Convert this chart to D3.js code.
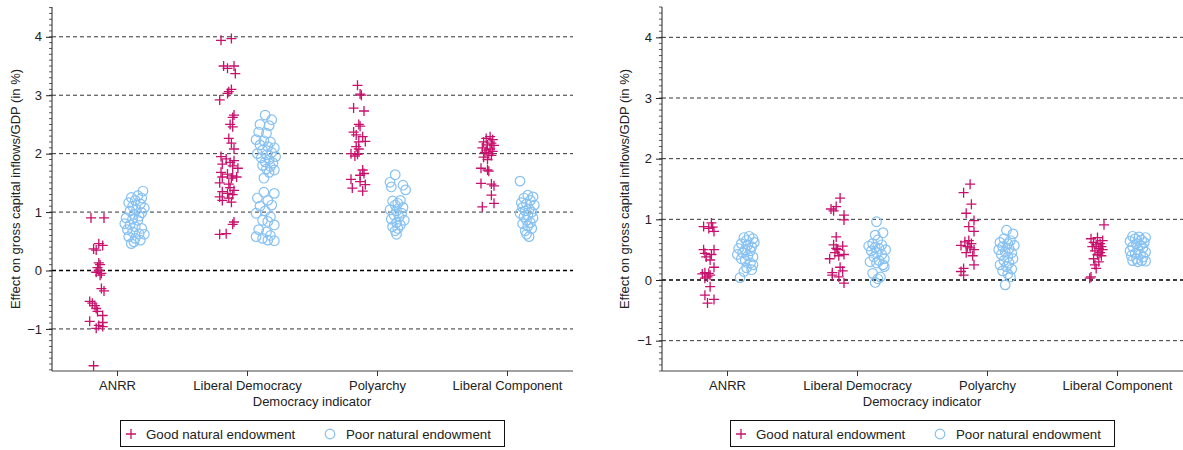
<!DOCTYPE html>
<html>
<head>
<meta charset="utf-8">
<script src="https://cdn.jsdelivr.net/npm/d3@7"></script>
<style>
  html, body { margin: 0; padding: 0; background: #fff; }
  svg { display: block; font-family: "Liberation Sans", Arial, Helvetica, sans-serif; }
</style>
</head>
<body>
<svg id="chart" width="1183" height="450"></svg>
<script>
// Democracy indicators on the x axis
const categories = ["ANRR", "Liberal Democracy", "Polyarchy", "Liberal Component"];
const yTicks = [-1, 0, 1, 2, 3, 4];
const legendLabels = ["Good natural endowment", "Poor natural endowment"];
const xTitle = "Democracy indicator";
const yTitle = "Effect on gross capital inflows/GDP (in %)";

// Each estimate: [jitter within category, effect in %]
// Panel A — good natural endowment
const goodA_ANRR = [[-0.20,0.90],[-0.10,0.90],[-0.14,0.46],[-0.11,0.43],[-0.18,0.37],[-0.16,0.35],[-0.14,0.13],[-0.13,0.10],[-0.15,0.05],[-0.14,0.00],[-0.16,-0.03],[-0.12,-0.05],[-0.13,-0.08],[-0.12,-0.31],[-0.10,-0.35],[-0.21,-0.53],[-0.19,-0.56],[-0.17,-0.60],[-0.16,-0.65],[-0.15,-0.70],[-0.11,-0.77],[-0.21,-0.87],[-0.11,-0.89],[-0.14,-0.94],[-0.11,-0.96],[-0.16,-0.99],[-0.18,-1.63]];
const goodA_LD = [[-0.20,3.94],[-0.12,3.97],[-0.18,3.50],[-0.10,3.50],[-0.15,3.46],[-0.09,3.37],[-0.12,3.10],[-0.14,3.06],[-0.15,3.03],[-0.21,2.92],[-0.10,2.66],[-0.11,2.62],[-0.13,2.50],[-0.11,2.46],[-0.14,2.26],[-0.12,2.18],[-0.10,2.08],[-0.20,1.95],[-0.16,1.91],[-0.10,1.88],[-0.13,1.85],[-0.19,1.82],[-0.11,1.79],[-0.07,1.75],[-0.20,1.68],[-0.15,1.65],[-0.11,1.62],[-0.19,1.60],[-0.12,1.58],[-0.08,1.60],[-0.21,1.50],[-0.14,1.48],[-0.13,1.42],[-0.10,1.37],[-0.19,1.35],[-0.15,1.32],[-0.11,1.30],[-0.21,1.26],[-0.14,1.24],[-0.19,1.20],[-0.12,1.17],[-0.10,0.83],[-0.11,0.79],[-0.21,0.62],[-0.16,0.63]];
const goodA_Poly = [[-0.15,3.17],[-0.12,3.00],[-0.13,3.02],[-0.18,2.78],[-0.10,2.73],[-0.14,2.50],[-0.13,2.47],[-0.18,2.37],[-0.11,2.29],[-0.16,2.32],[-0.14,2.20],[-0.09,2.21],[-0.16,2.12],[-0.14,2.08],[-0.20,2.00],[-0.15,1.99],[-0.17,1.96],[-0.11,1.72],[-0.10,1.66],[-0.13,1.63],[-0.20,1.56],[-0.13,1.52],[-0.09,1.47],[-0.19,1.41],[-0.11,1.36]];
const goodA_LC = [[-0.13,2.29],[-0.16,2.26],[-0.11,2.24],[-0.18,2.20],[-0.12,2.18],[-0.15,2.15],[-0.10,2.14],[-0.19,2.10],[-0.13,2.08],[-0.16,2.06],[-0.11,2.04],[-0.17,2.02],[-0.14,2.00],[-0.12,1.97],[-0.18,1.94],[-0.15,1.90],[-0.20,1.75],[-0.15,1.72],[-0.14,1.70],[-0.20,1.49],[-0.12,1.48],[-0.10,1.45],[-0.12,1.29],[-0.10,1.15],[-0.19,1.09]];
// Panel A — poor natural endowment
const poorA_ANRR = [[0.20,1.36],[0.16,1.28],[0.11,1.25],[0.19,1.24],[0.14,1.20],[0.09,1.16],[0.18,1.14],[0.12,1.10],[0.21,1.07],[0.15,1.04],[0.10,1.02],[0.19,0.99],[0.13,0.96],[0.17,0.93],[0.07,0.90],[0.12,0.88],[0.16,0.86],[0.06,0.80],[0.10,0.78],[0.14,0.75],[0.19,0.72],[0.08,0.70],[0.12,0.66],[0.17,0.63],[0.21,0.62],[0.09,0.58],[0.14,0.55],[0.18,0.52],[0.13,0.49],[0.11,0.46]];
const poorA_LD = [[0.14,2.66],[0.19,2.58],[0.10,2.50],[0.17,2.48],[0.09,2.37],[0.15,2.35],[0.07,2.24],[0.13,2.22],[0.18,2.20],[0.10,2.15],[0.16,2.12],[0.21,2.10],[0.12,2.06],[0.19,2.02],[0.08,2.00],[0.15,1.98],[0.22,1.95],[0.11,1.93],[0.17,1.90],[0.14,1.86],[0.20,1.84],[0.12,1.80],[0.18,1.78],[0.15,1.74],[0.21,1.72],[0.17,1.68],[0.13,1.58],[0.21,1.32],[0.13,1.34],[0.08,1.24],[0.16,1.20],[0.19,1.12],[0.10,1.10],[0.14,1.02],[0.07,0.98],[0.18,0.92],[0.12,0.86],[0.16,0.84],[0.21,0.78],[0.09,0.70],[0.15,0.66],[0.07,0.58],[0.18,0.60],[0.12,0.55],[0.16,0.52],[0.21,0.51]];
const poorA_Poly = [[0.14,1.64],[0.10,1.51],[0.20,1.46],[0.11,1.43],[0.22,1.38],[0.12,1.19],[0.18,1.20],[0.16,1.15],[0.14,1.12],[0.20,1.08],[0.10,1.04],[0.15,1.02],[0.19,0.98],[0.13,0.95],[0.17,0.92],[0.11,0.88],[0.21,0.86],[0.15,0.82],[0.18,0.78],[0.12,0.75],[0.16,0.72],[0.14,0.68],[0.15,0.62]];
const poorA_LC = [[0.10,1.53],[0.16,1.29],[0.20,1.26],[0.13,1.24],[0.18,1.20],[0.11,1.16],[0.15,1.14],[0.21,1.12],[0.12,1.08],[0.17,1.05],[0.14,1.02],[0.19,1.00],[0.10,0.98],[0.16,0.95],[0.13,0.92],[0.20,0.90],[0.15,0.86],[0.18,0.82],[0.12,0.80],[0.16,0.76],[0.19,0.72],[0.14,0.68],[0.15,0.62],[0.17,0.58]];
// Panel B — good natural endowment
const goodB_ANRR = [[-0.18,0.88],[-0.12,0.94],[-0.10,0.80],[-0.14,0.85],[-0.11,0.87],[-0.18,0.50],[-0.10,0.50],[-0.17,0.44],[-0.13,0.33],[-0.16,0.38],[-0.12,0.42],[-0.10,0.21],[-0.17,0.12],[-0.19,0.10],[-0.13,0.08],[-0.15,0.05],[-0.17,0.03],[-0.14,0.11],[-0.13,-0.11],[-0.17,-0.25],[-0.10,-0.32],[-0.15,-0.38]];
const goodB_LD = [[-0.13,1.35],[-0.16,1.21],[-0.20,1.17],[-0.18,1.14],[-0.10,1.07],[-0.10,0.99],[-0.16,0.71],[-0.18,0.58],[-0.11,0.56],[-0.15,0.50],[-0.16,0.52],[-0.17,0.45],[-0.14,0.40],[-0.21,0.35],[-0.10,0.42],[-0.13,0.21],[-0.11,0.15],[-0.19,0.12],[-0.19,0.08],[-0.14,0.05],[-0.10,-0.05]];
const goodB_Poly = [[-0.13,1.58],[-0.18,1.44],[-0.12,1.25],[-0.16,1.10],[-0.10,0.98],[-0.14,0.88],[-0.10,0.80],[-0.14,0.65],[-0.17,0.63],[-0.12,0.60],[-0.20,0.57],[-0.15,0.55],[-0.13,0.53],[-0.10,0.50],[-0.16,0.45],[-0.11,0.40],[-0.10,0.25],[-0.18,0.19],[-0.20,0.14],[-0.18,0.08]];
const goodB_LC = [[-0.10,0.91],[-0.15,0.70],[-0.20,0.68],[-0.11,0.65],[-0.18,0.62],[-0.13,0.60],[-0.16,0.58],[-0.12,0.55],[-0.19,0.55],[-0.14,0.52],[-0.11,0.50],[-0.17,0.48],[-0.13,0.45],[-0.15,0.42],[-0.12,0.40],[-0.18,0.35],[-0.14,0.30],[-0.17,0.25],[-0.16,0.19],[-0.20,0.05],[-0.21,0.03]];
// Panel B — poor natural endowment
const poorB_ANRR = [[0.17,0.72],[0.13,0.70],[0.20,0.68],[0.15,0.65],[0.21,0.62],[0.11,0.60],[0.16,0.58],[0.19,0.55],[0.09,0.52],[0.14,0.50],[0.18,0.48],[0.12,0.45],[0.08,0.42],[0.16,0.40],[0.20,0.38],[0.11,0.35],[0.14,0.32],[0.18,0.28],[0.20,0.25],[0.15,0.20],[0.19,0.17],[0.13,0.14],[0.10,0.04]];
const poorB_LD = [[0.15,0.96],[0.20,0.78],[0.14,0.74],[0.16,0.66],[0.12,0.60],[0.19,0.58],[0.09,0.56],[0.14,0.54],[0.17,0.52],[0.22,0.50],[0.11,0.48],[0.15,0.45],[0.19,0.42],[0.13,0.38],[0.21,0.35],[0.17,0.32],[0.10,0.30],[0.15,0.28],[0.20,0.25],[0.21,0.22],[0.12,0.11],[0.18,0.05],[0.16,0.02],[0.14,-0.04]];
const poorB_Poly = [[0.15,0.82],[0.20,0.76],[0.13,0.68],[0.18,0.65],[0.10,0.62],[0.16,0.60],[0.21,0.57],[0.12,0.55],[0.17,0.52],[0.09,0.50],[0.14,0.47],[0.19,0.45],[0.11,0.42],[0.16,0.38],[0.20,0.35],[0.13,0.32],[0.17,0.28],[0.10,0.25],[0.15,0.22],[0.19,0.18],[0.12,0.15],[0.16,0.10],[0.18,0.05],[0.14,-0.08]];
const poorB_LC = [[0.12,0.72],[0.17,0.71],[0.22,0.70],[0.14,0.68],[0.19,0.66],[0.10,0.64],[0.21,0.62],[0.15,0.60],[0.18,0.57],[0.12,0.55],[0.20,0.53],[0.16,0.50],[0.10,0.48],[0.22,0.46],[0.14,0.44],[0.18,0.42],[0.11,0.40],[0.20,0.38],[0.15,0.35],[0.12,0.32],[0.19,0.32],[0.16,0.30],[0.22,0.31]];

const goodColor = "#c8106c";
const poorColor = "#86c1f3";

const panels = [
  { left: 52, yDomain: [-1.72, 4.51], titleX: 15,
    good: [goodA_ANRR, goodA_LD, goodA_Poly, goodA_LC],
    poor: [poorA_ANRR, poorA_LD, poorA_Poly, poorA_LC] },
  { left: 662, yDomain: [-1.5, 4.5], titleX: 624,
    good: [goodB_ANRR, goodB_LD, goodB_Poly, goodB_LC],
    poor: [poorB_ANRR, poorB_LD, poorB_Poly, poorB_LC] }
];

const svg = d3.select("#chart");
const plotTop = 7, plotBottom = 371, plotW = 520;

function plusPath(x, y, r) {
  return `M${x - r},${y}H${x + r}M${x},${y - r}V${y + r}`;
}

panels.forEach(p => {
  const g = svg.append("g");
  const x = d3.scaleLinear().domain([-0.5, categories.length - 0.5]).range([p.left, p.left + plotW]);
  const y = d3.scaleLinear().domain(p.yDomain).range([plotBottom, plotTop]);

  // horizontal reference lines
  g.append("g").selectAll("line").data(yTicks).join("line")
    .attr("x1", x.range()[0]).attr("x2", x.range()[1] + 1)
    .attr("y1", d => y(d)).attr("y2", d => y(d))
    .attr("stroke", d => d === 0 ? "#000" : "#333")
    .attr("stroke-width", d => d === 0 ? 1.7 : 1)
    .attr("stroke-dasharray", "4,3");

  // minor ticks every 0.1
  const minor = d3.range(Math.ceil(p.yDomain[0] * 10), Math.floor(p.yDomain[1] * 10) + 1).map(k => k / 10);
  g.append("g").selectAll("line").data(minor).join("line")
    .attr("x1", p.left - 3).attr("x2", p.left)
    .attr("y1", d => y(d)).attr("y2", d => y(d))
    .attr("stroke", "#333").attr("stroke-width", 0.8);

  // y axis
  const yAxis = d3.axisLeft(y).tickValues(yTicks).tickSize(6).tickPadding(4)
    .tickFormat(d => d < 0 ? "\u2212" + Math.abs(d) : d);
  const ya = g.append("g").attr("transform", `translate(${p.left},0)`).call(yAxis);
  ya.select(".domain").attr("d", `M0,${plotTop}V${plotBottom}`).attr("stroke", "#222");
  ya.selectAll(".tick line").attr("stroke", "#222");
  ya.selectAll(".tick text").attr("font-size", 13).attr("fill", "#222")
    .attr("font-family", "Liberation Sans, Arial, sans-serif");

  // x axis
  const xAxis = d3.axisBottom(x).tickValues(d3.range(categories.length))
    .tickFormat(i => categories[i]).tickSize(5).tickPadding(5);
  const xa = g.append("g").attr("transform", `translate(0,${plotBottom})`).call(xAxis);
  xa.select(".domain").attr("d", `M${x.range()[0]},0H${x.range()[1] + 1}`).attr("stroke", "#444");
  xa.selectAll(".tick line").attr("stroke", "#333");
  xa.selectAll(".tick text").attr("font-size", 13).attr("fill", "#222")
    .attr("font-family", "Liberation Sans, Arial, sans-serif");

  // axis titles
  const cx = (x.range()[0] + x.range()[1]) / 2;
  g.append("text").attr("x", cx).attr("y", 406).attr("text-anchor", "middle")
    .attr("font-size", 13).attr("fill", "#222").text(xTitle);
  g.append("text").attr("transform", `translate(${p.titleX},${(plotTop + plotBottom) / 2}) rotate(-90)`)
    .attr("text-anchor", "middle").attr("dy", "0.35em")
    .attr("font-size", 13).attr("fill", "#222").text(yTitle);

  // poor endowment: hollow circles
  p.poor.forEach((series, i) => {
    g.append("g").selectAll("circle").data(series).join("circle")
      .attr("cx", d => x(i + d[0])).attr("cy", d => y(d[1])).attr("r", 4.8)
      .attr("fill", "none").attr("stroke", poorColor).attr("stroke-width", 1.2);
  });
  // good endowment: plus markers
  p.good.forEach((series, i) => {
    g.append("g").selectAll("path").data(series).join("path")
      .attr("d", d => plusPath(x(i + d[0]), y(d[1]), 5))
      .attr("fill", "none").attr("stroke", goodColor).attr("stroke-width", 1.3);
  });

  // legend
  const lw = 384, lx = cx - lw / 2, ly = 420;
  const lg = g.append("g");
  lg.append("rect").attr("x", lx + 0.5).attr("y", ly + 0.5).attr("width", lw).attr("height", 26)
    .attr("fill", "#fff").attr("stroke", "#111").attr("stroke-width", 1);
  lg.append("path").attr("d", plusPath(lx + 11, ly + 14, 5))
    .attr("stroke", goodColor).attr("stroke-width", 1.3).attr("fill", "none");
  lg.append("text").attr("x", lx + 26).attr("y", ly + 18.5).attr("font-size", 13.3).attr("fill", "#222")
    .text(legendLabels[0]);
  lg.append("circle").attr("cx", lx + 210).attr("cy", ly + 14).attr("r", 4.8)
    .attr("fill", "none").attr("stroke", poorColor).attr("stroke-width", 1.2);
  lg.append("text").attr("x", lx + 226).attr("y", ly + 18.5).attr("font-size", 13.3).attr("fill", "#222")
    .text(legendLabels[1]);
});
</script>
</body>
</html>
